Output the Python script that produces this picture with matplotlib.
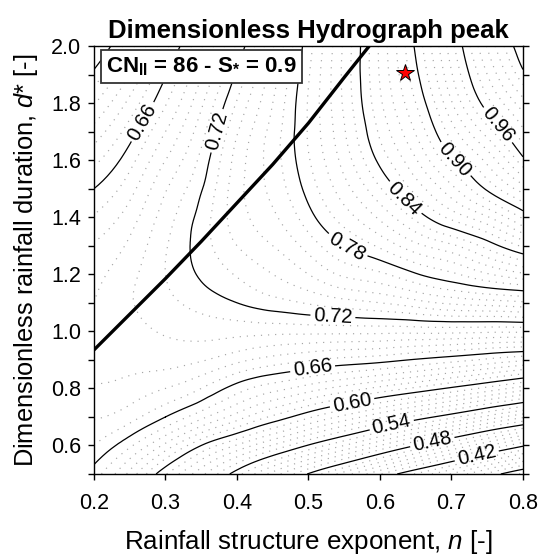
import numpy as np
import matplotlib
matplotlib.use("Agg")
import matplotlib.pyplot as plt
import matplotlib.tri as mtri

plt.rcParams['font.family'] = ['Liberation Sans', 'DejaVu Sans']
plt.rcParams['mathtext.fontset'] = 'custom'
plt.rcParams['mathtext.rm'] = 'Liberation Sans'
plt.rcParams['mathtext.it'] = 'Liberation Sans:italic'
plt.rcParams['mathtext.bf'] = 'Liberation Sans:bold'

# ---- data ----
n_values = [0.20, 0.25, 0.30, 0.35, 0.40, 0.45, 0.50, 0.55, 0.60, 0.65, 0.70, 0.75, 0.80]
d_values = [0.5, 0.6, 0.7, 0.8, 0.9, 1.0, 1.1, 1.2, 1.3, 1.4, 1.5, 1.6, 1.7, 1.8, 1.9, 2.0]
# peak values, one row per d value, columns follow n_values
peak_rows = [
    [0.655, 0.627, 0.591, 0.563, 0.534, 0.506, 0.479, 0.455, 0.431, 0.409, 0.389, 0.368, 0.348],
    [0.670, 0.652, 0.627, 0.600, 0.579, 0.559, 0.539, 0.520, 0.500, 0.480, 0.461, 0.441, 0.422],
    [0.681, 0.674, 0.660, 0.643, 0.625, 0.608, 0.592, 0.577, 0.562, 0.547, 0.533, 0.517, 0.502],
    [0.689, 0.686, 0.680, 0.670, 0.655, 0.644, 0.635, 0.626, 0.617, 0.608, 0.598, 0.587, 0.575],
    [0.693, 0.694, 0.694, 0.691, 0.683, 0.676, 0.671, 0.667, 0.664, 0.659, 0.654, 0.648, 0.642],
    [0.692, 0.697, 0.701, 0.7035, 0.7035, 0.703, 0.703, 0.703, 0.703, 0.703, 0.703, 0.702, 0.702],
    [0.690, 0.699, 0.707, 0.714, 0.720, 0.726, 0.731, 0.736, 0.740, 0.746, 0.752, 0.755, 0.758],
    [0.687, 0.697, 0.710, 0.7215, 0.731, 0.740, 0.750, 0.762, 0.768, 0.779, 0.788, 0.799, 0.808],
    [0.681, 0.692, 0.709, 0.725, 0.740, 0.750, 0.764, 0.780, 0.792, 0.807, 0.818, 0.834, 0.852],
    [0.671, 0.685, 0.705, 0.724, 0.745, 0.758, 0.776, 0.795, 0.812, 0.833, 0.853, 0.869, 0.892],
    [0.660, 0.676, 0.699, 0.719, 0.746, 0.763, 0.784, 0.806, 0.829, 0.854, 0.877, 0.902, 0.925],
    [0.647, 0.666, 0.690, 0.713, 0.744, 0.765, 0.789, 0.814, 0.843, 0.869, 0.898, 0.923, 0.957],
    [0.634, 0.655, 0.680, 0.706, 0.739, 0.764, 0.791, 0.819, 0.852, 0.881, 0.915, 0.945, 0.978],
    [0.619, 0.643, 0.669, 0.698, 0.731, 0.760, 0.791, 0.822, 0.858, 0.890, 0.929, 0.966, 0.996],
    [0.603, 0.630, 0.659, 0.689, 0.722, 0.755, 0.789, 0.823, 0.861, 0.897, 0.939, 0.980, 1.017],
    [0.586, 0.616, 0.647, 0.679, 0.712, 0.749, 0.786, 0.822, 0.862, 0.902, 0.946, 0.991, 1.030],
]
# critical-duration line (thick)
ridge_n = [0.20, 0.25, 0.30, 0.35, 0.40, 0.45, 0.50, 0.55, 0.585]
ridge_d = [0.935, 1.06, 1.185, 1.315, 1.45, 1.585, 1.73, 1.89, 2.0]
# star marker
star_n = [0.635]
star_d = [1.905]

major_levels = [0.36, 0.42, 0.48, 0.54, 0.60, 0.66, 0.72, 0.78, 0.84, 0.90, 0.96, 1.02]
label_pos = [(0.271, 1.73), (0.376, 1.70), (0.553, 1.293), (0.632, 1.46), (0.70, 1.59),
             (0.758, 1.707), (0.534, 1.047), (0.506, 0.865), (0.561, 0.749),
             (0.617, 0.665), (0.674, 0.602), (0.736, 0.556)]

# ---- figure ----
fig = plt.figure(figsize=(5.39, 5.59), dpi=100)
ax = fig.add_axes([94/539, 1-474/559, 429/539, 428/559])

N, D = np.meshgrid(n_values, d_values)
Z = np.array(peak_rows)
tri = mtri.Triangulation(N.ravel(), D.ravel())
refiner = mtri.UniformTriRefiner(tri)
tri_f, z_f = refiner.refine_field(Z.ravel(), subdiv=3)

minor_levels = [round(v, 2) for v in np.arange(0.30, 1.06, 0.01)
                if min(abs(v - m) for m in major_levels) > 1e-6]
ax.tricontour(tri_f, z_f, levels=minor_levels, colors='#a6a6a6',
              linewidths=0.85, linestyles=[(0, (1, 5))])
cs = ax.tricontour(tri_f, z_f, levels=major_levels, colors='black', linewidths=0.9)
ax.clabel(cs, fmt='%.2f', fontsize=14.5, inline=True, inline_spacing=3, manual=label_pos)

ax.plot(ridge_n, ridge_d, color='black', lw=2.4, solid_capstyle='butt')
ax.plot(star_n, star_d, marker='*', ms=13, mfc='red', mec='black', mew=0.7, ls='none')

ax.set_xlim(0.2, 0.8)
ax.set_ylim(0.5, 2.0)
xt = [0.2, 0.3, 0.4, 0.5, 0.6, 0.7, 0.8]
ax.set_xticks(xt)
ax.set_xticklabels(['%.1f' % v for v in xt])
yt = [0.6, 0.8, 1.0, 1.2, 1.4, 1.6, 1.8, 2.0]
ax.set_yticks(yt)
ax.set_yticklabels(['%.1f' % v for v in yt])
ax.set_yticks([0.5, 0.7, 0.9, 1.1, 1.3, 1.5, 1.7, 1.9], minor=True)
ax.tick_params(which='both', direction='out', length=4, width=1, labelsize=15.5,
               right=True, top=False)
ax.tick_params(axis='x', pad=10)
ax.tick_params(axis='y', pad=5)
for s in ax.spines.values():
    s.set_linewidth(1.0)

ax.set_xlabel('Rainfall structure exponent, $n$ [-]', fontsize=18.7, labelpad=10)
ax.set_ylabel(r'Dimensionless rainfall duration, $d$* [-]', fontsize=18.3, labelpad=8)
ax.set_title('Dimensionless Hydrograph peak', fontsize=18.5, fontweight='bold', pad=6)

ax.text(0.028, 0.952, r'CN$_{\mathbf{II}}$ = 86 - S$_{\mathbf{*}}$ = 0.9', transform=ax.transAxes,
        fontsize=16, fontweight='bold', va='center', ha='left',
        bbox=dict(boxstyle='square,pad=0.22', fc='white', ec='#333333', lw=1.3))

fig.savefig('out.png', dpi=100)
